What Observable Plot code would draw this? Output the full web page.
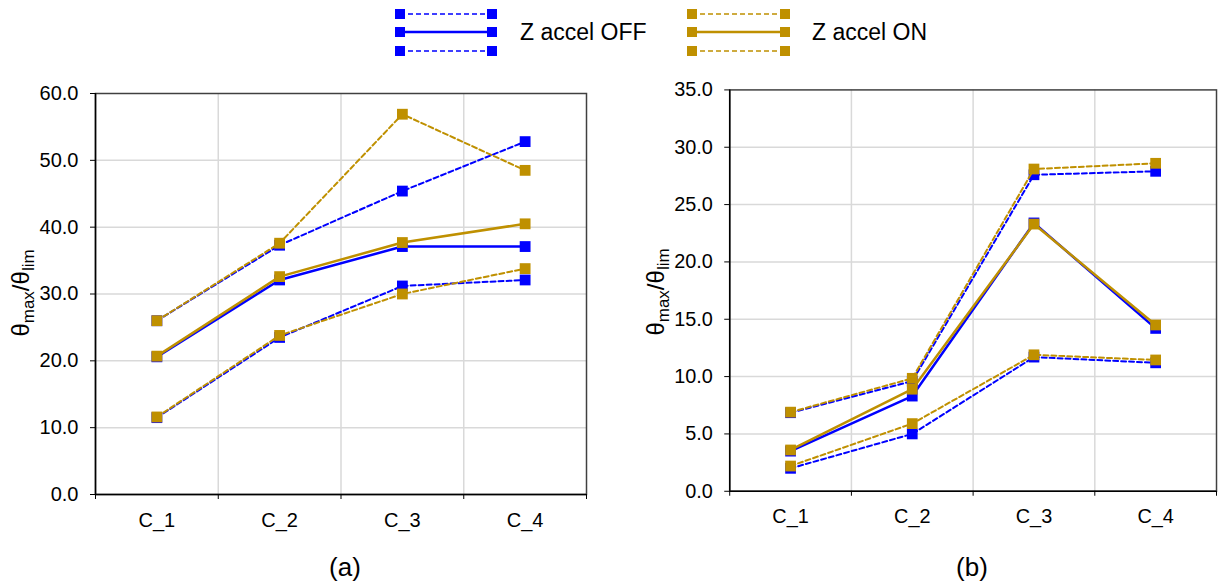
<!DOCTYPE html>
<html>
<head>
<meta charset="utf-8">
<script src="https://cdn.jsdelivr.net/npm/d3@7"></script>
<script src="https://cdn.jsdelivr.net/npm/@observablehq/plot@0.6"></script>
<style>
  html, body { margin: 0; padding: 0; background: #fff; }
  body { width: 1218px; height: 587px; overflow: hidden; position: relative; font-family: "Liberation Sans", Arial, sans-serif; color: #000; }
  .panel { position: absolute; top: 0; }
  .panel svg { overflow: visible; }
  .ylab { position: absolute; transform: translate(-50%, -50%) rotate(-90deg); white-space: nowrap; font-size: 24px; }
  .ylab sub { font-size: 17px; vertical-align: -5px; }
  .cap { position: absolute; transform: translate(-50%, -50%); font-size: 26px; }
  #legend { position: absolute; left: 0; top: 0; }
</style>
</head>
<body>
<div id="legend"></div>
<div id="pa" class="panel" style="left:0px"></div>
<div id="pb" class="panel" style="left:610px"></div>
<div class="ylab" style="left:23px; top:293px">θ<sub>max</sub>/θ<sub>lim</sub></div>
<div class="ylab" style="left:658px; top:292px">θ<sub>max</sub>/θ<sub>lim</sub></div>
<div class="cap" style="left:345px; top:567px">(a)</div>
<div class="cap" style="left:972px; top:567px">(b)</div>
<script>
// ---- data ----
const categories = ["C_1", "C_2", "C_3", "C_4"];
const seriesNames = ["Z accel OFF", "Z accel ON"];

// panel (a)
const offUpperA = [26.0, 37.3, 45.4, 52.8];
const offMeanA  = [20.6, 32.1, 37.1, 37.1];
const offLowerA = [11.5, 23.5, 31.2, 32.1];
const onUpperA  = [26.0, 37.6, 56.9, 48.5];
const onMeanA   = [20.7, 32.6, 37.7, 40.5];
const onLowerA  = [11.6, 23.8, 30.0, 33.8];

// panel (b)
const offUpperB = [6.85, 9.6, 27.6, 27.9];
const offMeanB  = [3.5, 8.3, 23.4, 14.2];
const offLowerB = [2.0, 5.0, 11.7, 11.2];
const onUpperB  = [6.9, 9.85, 28.1, 28.6];
const onMeanB   = [3.6, 8.9, 23.3, 14.5];
const onLowerB  = [2.2, 5.9, 11.9, 11.45];

const yTicksA = [0, 10, 20, 30, 40, 50, 60];
const yTicksB = [0, 5, 10, 15, 20, 25, 30, 35];

const BLUE = "#0000ff";
const GOLD = "#bf9000";

function rows(group, arrs) {
  const out = [];
  for (const [kind, arr] of Object.entries(arrs)) {
    arr.forEach((v, i) => out.push({group, kind, key: group + kind, x: i + 1, y: v}));
  }
  return out;
}

function groupMarks(data, color) {
  const dashed = data.filter(d => d.kind !== "mean");
  const solid = data.filter(d => d.kind === "mean");
  return [
    Plot.line(dashed, {x: "x", y: "y", z: "key", stroke: color, strokeWidth: 2, strokeDasharray: "5,3"}),
    Plot.line(solid, {x: "x", y: "y", z: "key", stroke: color, strokeWidth: 2.5}),
    Plot.dot(data, {x: "x", y: "y", symbol: "square", r: 6.1, fill: color, stroke: "none"})
  ];
}

function makePanel(off, on, yMax, yTicks, opts) {
  const fmt = d3.format(".1f");
  return Plot.plot({
    width: opts.width, height: 540,
    marginLeft: opts.ml, marginRight: opts.mr, marginTop: opts.mt, marginBottom: 540 - 494,
    style: {fontFamily: '"Liberation Sans", Arial, sans-serif', fontSize: "20px", color: "#000", background: "transparent"},
    x: {type: "linear", domain: [0.5, 4.5]},
    y: {domain: [0, yMax]},
    marks: [
      Plot.gridY(yTicks.filter(t => t > 0 && t < yMax), {stroke: "#d9d9d9", strokeOpacity: 1, strokeWidth: 1.5}),
      Plot.gridX([1.5, 2.5, 3.5], {stroke: "#d9d9d9", strokeOpacity: 1, strokeWidth: 1.5}),
      Plot.frame({stroke: "#404040", strokeWidth: 1.5}),
      Plot.ruleY([0], {stroke: "#000", strokeWidth: 1.5}),
      Plot.ruleX([0.5], {stroke: "#000", strokeWidth: 1.5}),
      Plot.axisY({ticks: yTicks, tickFormat: fmt, tickSize: 5, tickPadding: 12, label: null, fontSize: 20, stroke: "#000"}),
      Plot.axisX({ticks: [0.5, 1.5, 2.5, 3.5, 4.5], tickFormat: () => "", tickSize: 5, label: null, stroke: "#000"}),
      Plot.axisX({ticks: [1, 2, 3, 4], tickFormat: i => categories[i - 1], tickSize: 0, tickPadding: 18, label: null, fontSize: 20}),
      ...groupMarks(off, BLUE),
      ...groupMarks(on, GOLD)
    ]
  });
}

const offA = rows("off", {upper: offUpperA, mean: offMeanA, lower: offLowerA});
const onA  = rows("on",  {upper: onUpperA,  mean: onMeanA,  lower: onLowerA});
const offB = rows("off", {upper: offUpperB, mean: offMeanB, lower: offLowerB});
const onB  = rows("on",  {upper: onUpperB,  mean: onMeanB,  lower: onLowerB});

document.getElementById("pa").appendChild(makePanel(offA, onA, 60, yTicksA, {width: 600, ml: 95, mr: 14, mt: 93}));
document.getElementById("pb").appendChild(makePanel(offB, onB, 35, yTicksB, {width: 612, ml: 120, mr: 2, mt: 90}));

// ---- legend ----
const legendItems = [
  {name: seriesNames[0], color: BLUE, x1: 400, x2: 492, tx: 520},
  {name: seriesNames[1], color: GOLD, x1: 692, x2: 785, tx: 812}
];
const ns = "http://www.w3.org/2000/svg";
const lsvg = document.createElementNS(ns, "svg");
lsvg.setAttribute("width", 1218); lsvg.setAttribute("height", 70);
const rowsY = [{y: 14, dash: "5,3", w: 1.5}, {y: 32, dash: null, w: 2.5}, {y: 51, dash: "5,3", w: 1.5}];
for (const it of legendItems) {
  for (const r of rowsY) {
    const l = document.createElementNS(ns, "line");
    l.setAttribute("x1", it.x1); l.setAttribute("x2", it.x2);
    l.setAttribute("y1", r.y); l.setAttribute("y2", r.y);
    l.setAttribute("stroke", it.color); l.setAttribute("stroke-width", r.w);
    if (r.dash) l.setAttribute("stroke-dasharray", r.dash);
    lsvg.appendChild(l);
    for (const cx of [it.x1, it.x2]) {
      const s = document.createElementNS(ns, "rect");
      s.setAttribute("x", cx - 5); s.setAttribute("y", r.y - 5);
      s.setAttribute("width", 10); s.setAttribute("height", 10);
      s.setAttribute("fill", it.color);
      lsvg.appendChild(s);
    }
  }
  const t = document.createElementNS(ns, "text");
  t.setAttribute("x", it.tx); t.setAttribute("y", 32);
  t.setAttribute("dy", "0.35em");
  t.setAttribute("font-size", "23px");
  t.setAttribute("font-family", '"Liberation Sans", Arial, sans-serif');
  t.textContent = it.name;
  lsvg.appendChild(t);
}
document.getElementById("legend").appendChild(lsvg);
</script>
</body>
</html>
